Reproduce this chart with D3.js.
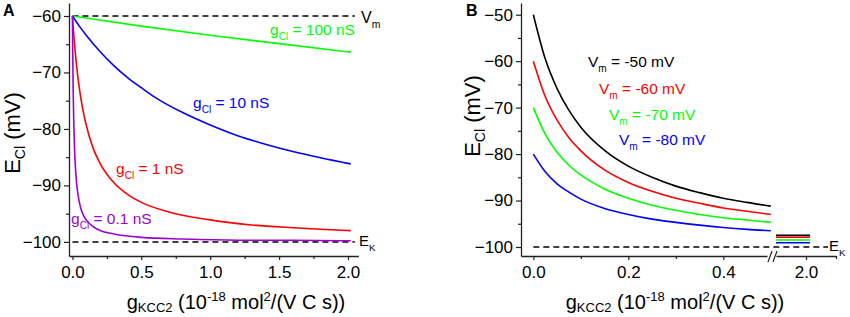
<!DOCTYPE html>
<html>
<head>
<meta charset="utf-8">
<script src="https://cdn.jsdelivr.net/npm/d3@7"></script>
<style>
body { margin: 0; background: #fff; }
text { font-family: "Liberation Sans", Arial, sans-serif; }
</style>
</head>
<body>
<div id="chart"></div>
<script>
// ---- panel A : E_Cl against g_KCC2 for four g_Cl (Vm = -60, EK = -100)
const gA_100 = [0, 0.5, 1.0, 1.5, 2.02]
const eA_100 = [-60, -61.8, -63.4, -64.9, -66.4]
const gA_10 = [0, 0.05, 0.1, 0.2, 0.3, 0.4, 0.5, 0.6, 0.8, 1.0, 1.2, 1.4, 1.6, 1.8, 2.02]
const eA_10 = [-60, -61.8, -63.4, -66.3, -68.8, -70.9, -72.7, -74.4, -77.1, -79.3, -81.2, -82.7, -84.0, -85.1, -86.2]
const gA_1 = [0, 0.01, 0.02, 0.04, 0.06, 0.08, 0.1, 0.15, 0.2, 0.3, 0.4, 0.5, 0.7, 1.0, 1.3, 1.6, 2.02]
const eA_1 = [-60, -63.4, -66.3, -70.9, -74.4, -77.1, -79.3, -83.4, -86.1, -89.5, -91.6, -93.0, -94.7, -96.1, -97.0, -97.5, -98.0]
const gA_01 = [0, 0.002, 0.005, 0.01, 0.015, 0.02, 0.03, 0.04, 0.06, 0.08, 0.1, 0.15, 0.2, 0.3, 0.5, 0.8, 1.2, 1.6, 2.02]
const eA_01 = [-60, -66.3, -72.7, -79.3, -83.4, -86.1, -89.5, -91.6, -94.0, -95.3, -96.1, -97.3, -98.0, -98.6, -99.2, -99.5, -99.7, -99.7, -99.8]
const refA = [-60, -100]              // Vm and EK dashed lines
const xTicksA = [0, 0.5, 1.0, 1.5, 2.0]
const xMinorA = [0.25, 0.75, 1.25, 1.75]
const yTicksA = [-60, -70, -80, -90, -100]
const yMinorA = [-65, -75, -85, -95]

// ---- panel B : E_Cl against g_KCC2 for four Vm (g_Cl = 1 nS)
const gB = [0, 0.025, 0.05, 0.075, 0.1, 0.15, 0.2, 0.25, 0.3, 0.35, 0.4, 0.45, 0.5]
const eB_50 = [-50, -59.5, -65.9, -70.6, -74.2, -79.2, -82.6, -85.0, -86.9, -88.3, -89.5, -90.4, -91.2]
const eB_60 = [-60, -67.6, -72.7, -76.5, -79.3, -83.4, -86.1, -88.0, -89.5, -90.6, -91.6, -92.3, -93.0]
const eB_70 = [-70, -75.7, -79.6, -82.4, -84.5, -87.5, -89.5, -91.0, -92.1, -93.0, -93.7, -94.2, -94.7]
const eB_80 = [-80, -83.8, -86.4, -88.2, -89.7, -91.7, -93.0, -94.0, -94.7, -95.3, -95.8, -96.2, -96.5]
const gTail = [1.85, 2.02]            // short segments after the axis break
const eTail = [-97.5, -97.9, -98.5, -99.1]
const refB = -100
const xTicksB = [0, 0.2, 0.4]
const xMinorB = [0.1, 0.3]
const xTicksB2 = [2.0]
const yTicksB = [-50, -60, -70, -80, -90, -100]
const yMinorB = [-55, -65, -75, -85, -95]

const green = "#00ff00", blue = "#0000ff", red = "#ff0000", purple = "#a000d0"

const svg = d3.select("#chart").append("svg")
    .attr("width", 850)
    .attr("height", 317)

// scales
const xA = d3.scaleLinear().domain([-0.025, 2.075]).range([69, 358.3])
const yA = d3.scaleLinear().domain([-102.5, -57.7]).range([256, 3])
const xB = d3.scaleLinear().domain([-0.026, 0.492]).range([521, 767])
const xB2 = d3.scaleLinear().domain([1.85, 2.15]).range([776, 836])
const yB = d3.scaleLinear().domain([-101.94, -47.48]).range([256, 3])

const fmt1 = d3.format(".1f")
const tickFont = "17px"

function styleAxis(g) {
    g.select(".domain").attr("stroke", "#222").attr("stroke-width", 1.3)
    g.selectAll(".tick line").attr("stroke", "#222").attr("stroke-width", 1.2)
    g.selectAll("text").attr("font-size", tickFont).attr("fill", "#000")
        .attr("font-family", "Liberation Sans, Arial, sans-serif")
}

function yAxes(scale, major, minor, x) {
    svg.append("g")
        .attr("transform", "translate(" + x + ",0)")
        .call(d3.axisLeft(scale).tickValues(major).tickSize(5).tickPadding(3).tickSizeOuter(0).tickFormat(d3.format("d")))
        .call(styleAxis)
    svg.append("g")
        .attr("transform", "translate(" + x + ",0)")
        .call(d3.axisLeft(scale).tickValues(minor).tickSize(3).tickFormat(""))
        .call(styleAxis)
        .call(g => g.select(".domain").remove())
}

function xAxes(scale, major, minor, y) {
    svg.append("g")
        .attr("transform", "translate(0," + y + ")")
        .call(d3.axisBottom(scale).tickValues(major).tickSize(4).tickPadding(6).tickSizeOuter(0).tickFormat(fmt1))
        .call(styleAxis)
    if (minor.length) {
        svg.append("g")
            .attr("transform", "translate(0," + y + ")")
            .call(d3.axisBottom(scale).tickValues(minor).tickSize(3).tickFormat(""))
            .call(styleAxis)
            .call(g => g.select(".domain").remove())
    }
}

// label with a subscript: main + sub + rest
function subLabel(x, y, main, sub, rest, color, size) {
    const t = svg.append("text").attr("x", x).attr("y", y)
        .attr("font-size", size + "px").attr("fill", color)
    t.append("tspan").text(main)
    t.append("tspan").attr("font-size", (size * 0.65) + "px").attr("dy", size * 0.3).text(sub)
    if (rest) t.append("tspan").attr("dy", -size * 0.3).text(rest)
    return t
}

const line = (xs, ys, sx, sy) => d3.line()
    .x((d, i) => sx(xs[i]))
    .y((d, i) => sy(d))
    .curve(d3.curveMonotoneX)(ys)

// ================= panel A
yAxes(yA, yTicksA, yMinorA, 69)
xAxes(xA, xTicksA, xMinorA, 256)

refA.forEach(v => {
    svg.append("line")
        .attr("x1", xA(0)).attr("x2", xA(2.05))
        .attr("y1", yA(v)).attr("y2", yA(v))
        .attr("stroke", "#000").attr("stroke-width", 1.5)
        .attr("stroke-dasharray", "6,4")
})

const seriesA = [
    {g: gA_100, e: eA_100, c: green},
    {g: gA_10, e: eA_10, c: blue},
    {g: gA_1, e: eA_1, c: red},
    {g: gA_01, e: eA_01, c: purple}
]
seriesA.forEach(s => {
    svg.append("path")
        .attr("d", line(s.g, s.e, xA, yA))
        .attr("fill", "none")
        .attr("stroke", s.c)
        .attr("stroke-width", 1.6)
})

subLabel(270, 35, "g", "Cl", " = 100 nS", green, 15.5)
subLabel(193, 108, "g", "Cl", " = 10 nS", blue, 15.5)
subLabel(116, 174, "g", "Cl", " = 1 nS", red, 15.5)
subLabel(71, 224, "g", "Cl", " = 0.1 nS", purple, 15.5)
subLabel(361, 23, "V", "m", "", "#000", 16)
subLabel(359, 246, "E", "K", "", "#000", 15)

// ================= panel B
yAxes(yB, yTicksB, yMinorB, 521)
xAxes(xB, xTicksB, xMinorB, 256)
xAxes(xB2, xTicksB2, [2.15], 256)

// axis break marks
;[768, 773].forEach(x => {
    svg.append("line")
        .attr("x1", x).attr("y1", 262)
        .attr("x2", x + 4).attr("y2", 251)
        .attr("stroke", "#222").attr("stroke-width", 1.2)
})

svg.append("line")
    .attr("x1", xB(0)).attr("x2", xB2(2.11))
    .attr("y1", yB(refB)).attr("y2", yB(refB))
    .attr("stroke", "#000").attr("stroke-width", 1.5)
    .attr("stroke-dasharray", "6,4")

const seriesB = [
    {e: eB_50, c: "#000"},
    {e: eB_60, c: red},
    {e: eB_70, c: green},
    {e: eB_80, c: blue}
]
seriesB.forEach((s, i) => {
    svg.append("path")
        .attr("d", line(gB, s.e, xB, yB))
        .attr("fill", "none")
        .attr("stroke", s.c)
        .attr("stroke-width", 1.6)
    svg.append("path")
        .attr("d", line(gTail, [eTail[i], eTail[i]], xB2, yB))
        .attr("fill", "none")
        .attr("stroke", s.c)
        .attr("stroke-width", 1.6)
})

subLabel(588, 67, "V", "m", " = -50 mV", "#000", 15.5)
subLabel(599, 94, "V", "m", " = -60 mV", red, 15.5)
subLabel(609, 120, "V", "m", " = -70 mV", green, 15.5)
subLabel(619, 145, "V", "m", " = -80 mV", blue, 15.5)
subLabel(829, 251, "E", "K", "", "#000", 15)

// ================= panel letters and axis titles
svg.append("text").attr("x", 3).attr("y", 16).attr("font-size", "16px")
    .attr("font-weight", "bold").text("A")
svg.append("text").attr("x", 466).attr("y", 16).attr("font-size", "16px")
    .attr("font-weight", "bold").text("B")

function yTitle(x, y) {
    const t = svg.append("text")
        .attr("transform", "translate(" + x + "," + y + ") rotate(-90)")
        .attr("text-anchor", "middle")
        .attr("font-size", "22px")
    t.append("tspan").text("E")
    t.append("tspan").attr("font-size", "14px").attr("dy", 5).text("Cl")
    t.append("tspan").attr("dy", -5).text(" (mV)")
}
yTitle(20, 133)
yTitle(480, 116)

function xTitle(cx, y) {
    const t = svg.append("text")
        .attr("x", cx).attr("y", y)
        .attr("text-anchor", "middle")
        .attr("font-size", "20px")
    t.append("tspan").text("g")
    t.append("tspan").attr("font-size", "13px").attr("dy", 3).text("KCC2")
    t.append("tspan").attr("dy", -3).text(" (10")
    t.append("tspan").attr("font-size", "13px").attr("dy", -8).text("-18")
    t.append("tspan").attr("dy", 8).text(" mol")
    t.append("tspan").attr("font-size", "13px").attr("dy", -8).text("2")
    t.append("tspan").attr("dy", 8).text("/(V C s))")
}
xTitle(236, 309)
xTitle(675, 309)
</script>
</body>
</html>
